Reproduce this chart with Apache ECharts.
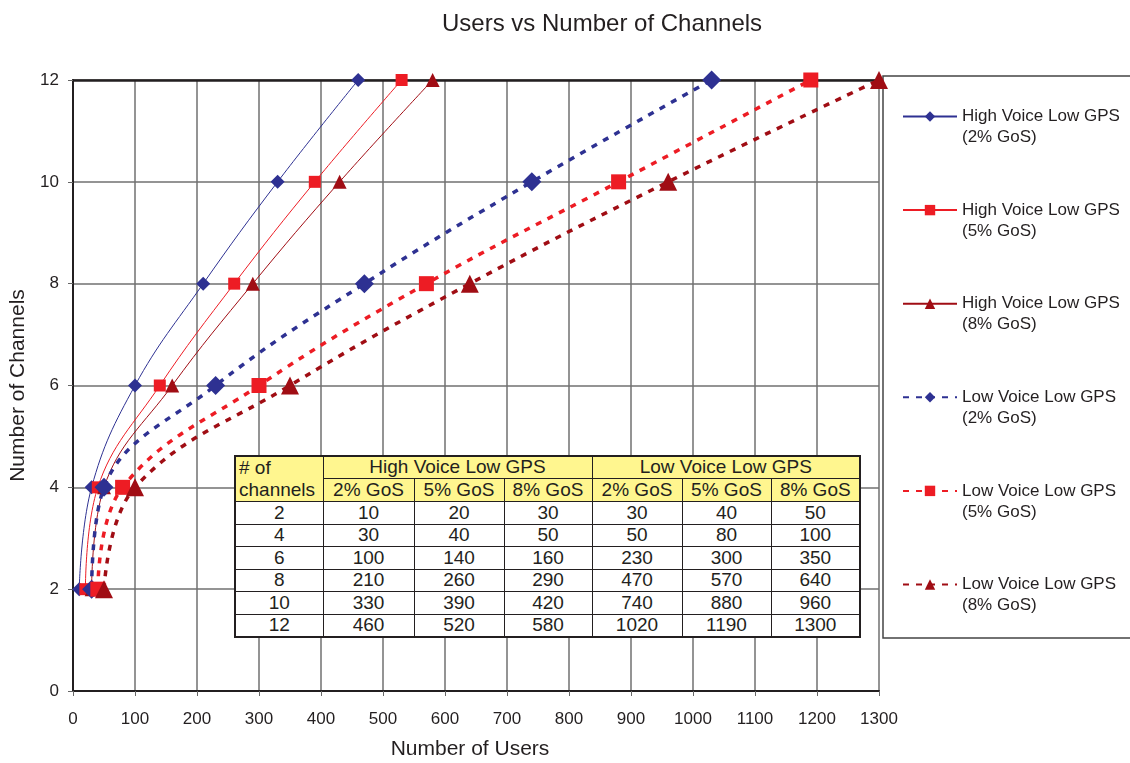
<!DOCTYPE html>
<html lang="en">
<head>
<meta charset="UTF-8">
<title>Users vs Number of Channels</title>
<script src="https://cdn.jsdelivr.net/npm/echarts@6/dist/echarts.min.js"></script>
<style>
  body { margin: 0; background: #fff; }
  #wrap { position: relative; width: 1130px; height: 763px; }
  #chart { width: 1130px; height: 763px; }
  #tbl {
    position: absolute; left: 234px; top: 455px; width: 626px; height: 180px;
    border-collapse: collapse; table-layout: fixed; background: #fff;
    font-family: "Liberation Sans", Arial, sans-serif; font-size: 19px; color: #231f20;
    border: 2px solid #231f20;
  }
  #tbl td { border: 1.5px solid #231f20; text-align: center; padding: 0; line-height: 18px; }
  #tbl td.hd { background: #fff68f; }
  #tbl td.first { text-align: left; padding-left: 3px; line-height: 22px; }
</style>
</head>
<body>
<div id="wrap">
  <div id="chart"></div>
  <table id="tbl"></table>
</div>
<script>
  // channels (y) and users (x) per scenario, as plotted
  var channels = [2, 4, 6, 8, 10, 12];
  var hv2 = [10, 30, 100, 210, 330, 460];
  var hv5 = [20, 40, 140, 260, 390, 530];
  var hv8 = [30, 50, 160, 290, 430, 580];
  var lv2 = [30, 50, 230, 470, 740, 1030];
  var lv5 = [40, 80, 300, 570, 880, 1190];
  var lv8 = [50, 100, 350, 640, 960, 1300];

  // values printed in the inset table (a few differ from the plotted points)
  var tblHv2 = [10, 30, 100, 210, 330, 460];
  var tblHv5 = [20, 40, 140, 260, 390, 520];
  var tblHv8 = [30, 50, 160, 290, 420, 580];
  var tblLv2 = [30, 50, 230, 470, 740, 1020];
  var tblLv5 = [40, 80, 300, 570, 880, 1190];
  var tblLv8 = [50, 100, 350, 640, 960, 1300];

  var names = ['High Voice Low GPS (2% GoS)', 'High Voice Low GPS (5% GoS)', 'High Voice Low GPS (8% GoS)',
    'Low Voice Low GPS (2% GoS)', 'Low Voice Low GPS (5% GoS)', 'Low Voice Low GPS (8% GoS)'];
  var gosLabels = ['2% GoS', '5% GoS', '8% GoS'];

  var navy = '#2e3192', red = '#ed1c24', dark = '#a00d14';
  var txt = '#231f20';

  function pairs(users) {
    return users.map(function (u, i) { return [u, channels[i]]; });
  }

  function mk(name, users, color, symbol, size, low) {
    return {
      name: name,
      type: 'line',
      data: pairs(users),
      smooth: 0.4,
      clip: false,
      symbol: symbol,
      symbolSize: size,
      color: color,
      itemStyle: { color: color },
      lineStyle: low ? { color: color, width: 3.5, type: [6, 7] } : { color: color, width: 1 }
    };
  }

  var series = [
    mk(names[0], hv2, navy, 'diamond', 14, false),
    mk(names[1], hv5, red, 'rect', 12, false),
    mk(names[2], hv8, dark, 'triangle', 14, false),
    mk(names[3], lv2, navy, 'diamond', 19, true),
    mk(names[4], lv5, red, 'rect', 15, true),
    mk(names[5], lv8, dark, 'triangle', 18, true)
  ];

  var myChart = echarts.init(document.getElementById('chart'));
  var option = {
    animation: false,
    textStyle: { fontFamily: 'Liberation Sans, Arial, sans-serif', color: txt },
    title: {
      text: 'Users vs Number of Channels',
      left: 437, top: 7,
      textStyle: { fontSize: 24, fontWeight: 'normal', color: txt }
    },
    grid: { left: 73, right: 251, top: 80, bottom: 72, outerBoundsMode: 'none', containLabel: false },
    legend: {
      orient: 'vertical',
      left: 902, top: 85,
      padding: 0,
      itemWidth: 54, itemHeight: 13,
      itemGap: 30.6,
      formatter: function (n) { return '\n' + n.replace(' (', '\n('); },
      textStyle: { fontSize: 17, color: txt, lineHeight: 21 }
    },
    graphic: [{
      type: 'rect',
      shape: { x: 883, y: 76, width: 260, height: 562 },
      style: { fill: 'none', stroke: '#444', lineWidth: 1.5 },
      z: -1
    }],
    xAxis: [{
      type: 'value', min: 0, max: 1300, interval: 100,
      name: 'Number of Users', nameLocation: 'middle', nameGap: 48,
      nameTextStyle: { fontSize: 21, color: txt, padding: [0, 12, 0, 0] },
      axisLine: { show: true, lineStyle: { color: '#231f20', width: 2 } },
      axisTick: { show: true, length: 5, lineStyle: { color: '#666' } },
      axisLabel: { fontSize: 17, color: txt, margin: 20, formatter: function (v) { return String(v); } },
      splitLine: { show: true, lineStyle: { color: '#707070', width: 1.5 } }
    }, {
      type: 'value', min: 0, max: 1300, position: 'top',
      axisLine: { show: true, lineStyle: { color: '#231f20', width: 2.5 } },
      axisTick: { show: false }, axisLabel: { show: false }, splitLine: { show: false }
    }],
    yAxis: {
      type: 'value', min: 0, max: 12, interval: 2,
      name: 'Number of Channels', nameLocation: 'middle', nameGap: 38,
      nameTextStyle: { fontSize: 21, color: txt },
      axisLine: { show: true, lineStyle: { color: '#231f20', width: 2 } },
      axisTick: { show: true, length: 5, lineStyle: { color: '#666' } },
      axisLabel: { fontSize: 17, color: txt, margin: 14 },
      splitLine: { show: true, lineStyle: { color: '#707070', width: 1.5 } }
    },
    series: series
  };
  myChart.setOption(option);

  // inset data table
  var colW = [88, 91, 90, 88, 90, 89, 89];
  var html = '<colgroup>' + colW.map(function (w) { return '<col style="width:' + w + 'px">'; }).join('') + '</colgroup>';
  html += '<tr style="height:22px"><td class="hd first" rowspan="2"># of<br>channels</td>' +
    '<td class="hd" colspan="3">High Voice Low GPS</td><td class="hd" colspan="3">Low Voice Low GPS</td></tr>';
  html += '<tr style="height:23px">' + gosLabels.concat(gosLabels).map(function (g) { return '<td class="hd">' + g + '</td>'; }).join('') + '</tr>';
  var cols = [tblHv2, tblHv5, tblHv8, tblLv2, tblLv5, tblLv8];
  channels.forEach(function (c, i) {
    html += '<tr style="height:22.5px"><td>' + c + '</td>' + cols.map(function (a) { return '<td>' + a[i] + '</td>'; }).join('') + '</tr>';
  });
  document.getElementById('tbl').innerHTML = html;
</script>
</body>
</html>
